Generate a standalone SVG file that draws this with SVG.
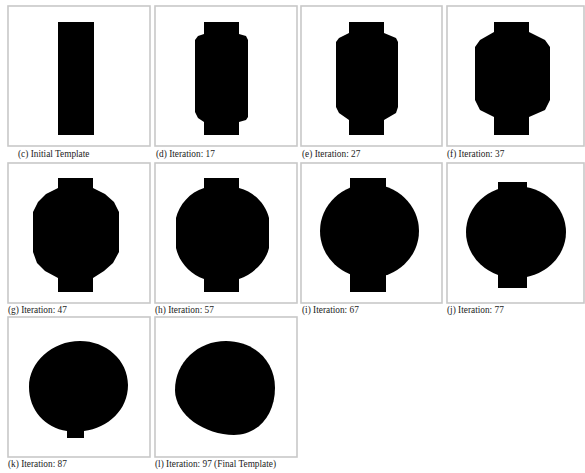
<svg xmlns="http://www.w3.org/2000/svg" width="585" height="473" viewBox="0 0 585 473">
<style>
.frame{fill:#fff;stroke:#c8c8c8;stroke-width:1.6}
.shape{fill:#000}
.cap{font-family:"Liberation Serif","Times New Roman",serif;font-size:9.3px;fill:#222}
</style>
<rect width="585" height="473" fill="#fff"/>
<g id="panel-c">
<rect class="frame" x="8" y="6" width="142" height="140"/>
<rect class="shape" x="58" y="22" width="36" height="113"/>
<text class="cap" x="18" y="157">(c) Initial Template</text>
</g>
<g id="panel-d">
<rect class="frame" x="155" y="6" width="142" height="140"/>
<polygon class="shape" points="204,22 239,22 239,34 246,36 248,40 248,117 246,120 239,122 239,135 204,135 204,122 198,118 195,112 195,40 198,36 204,34"/>
<text class="cap" x="156" y="157">(d) Iteration: 17</text>
</g>
<g id="panel-e">
<rect class="frame" x="301" y="6" width="141" height="140"/>
<polygon class="shape" points="349,22 384,22 384,33 396,38 398,42 398,107 396,113 384,120 384,135 349,135 349,120 339,113 336,107 336,42 339,38 349,33"/>
<text class="cap" x="302" y="157">(e) Iteration: 27</text>
</g>
<g id="panel-f">
<rect class="frame" x="447" y="6" width="137" height="140"/>
<polygon class="shape" points="494,22 529,22 529,32 545,40 550,47 550,100 545,110 529,117 529,135 494,135 494,117 480,110 475,100 475,47 480,40 494,32"/>
<text class="cap" x="447" y="157">(f) Iteration: 37</text>
</g>
<g id="panel-g">
<rect class="frame" x="8" y="163" width="142" height="140"/>
<polygon class="shape" points="58,178 93,178 93,188 105,194 114,202 119,212 119,252 113,263 104,271 93,278 93,292 58,292 58,278 45,271 37,263 33,252 33,212 38,202 46,194 58,188"/>
<text class="cap" x="8" y="313">(g) Iteration: 47</text>
</g>
<g id="panel-h">
<rect class="frame" x="155" y="163" width="142" height="140"/>
<path class="shape" d="M204,178 H239 V188 C255,192 266,205 269,218 V248 C266,262 253,274 239,279 V292 H204 V279 C190,274 179,262 176,248 V218 C179,205 190,192 204,188 Z"/>
<text class="cap" x="155" y="313">(h) Iteration: 57</text>
</g>
<g id="panel-i">
<rect class="frame" x="301" y="163" width="141" height="140"/>
<rect class="shape" x="350" y="178" width="36" height="114"/>
<ellipse class="shape" cx="369.5" cy="231" rx="49.5" ry="47"/>
<text class="cap" x="302" y="313">(i) Iteration: 67</text>
</g>
<g id="panel-j">
<rect class="frame" x="447" y="163" width="137" height="140"/>
<rect class="shape" x="498" y="182" width="29" height="106"/>
<ellipse class="shape" cx="516" cy="232" rx="50" ry="46"/>
<text class="cap" x="447" y="313">(j) Iteration: 77</text>
</g>
<g id="panel-k">
<rect class="frame" x="8" y="317" width="142" height="140"/>
<path class="shape" d="M80,341 C106,341 128,360 128,385 C128,410 108,428 84,431 L84,438 L67,438 L67,431 C45,428 29,410 29,387 C29,362 52,341 80,341 Z"/>
<text class="cap" x="8" y="467">(k) Iteration: 87</text>
</g>
<g id="panel-l">
<rect class="frame" x="155" y="317" width="142" height="140"/>
<path class="shape" d="M226,341 C255,341 275,362 275,388 C275,415 258,435 234,435 C205,435 175,415 175,390 C175,362 198,341 226,341 Z"/>
<text class="cap" x="155" y="467">(l) Iteration: 97  (Final Template)</text>
</g>
<g id="connectors"/>
</svg>
